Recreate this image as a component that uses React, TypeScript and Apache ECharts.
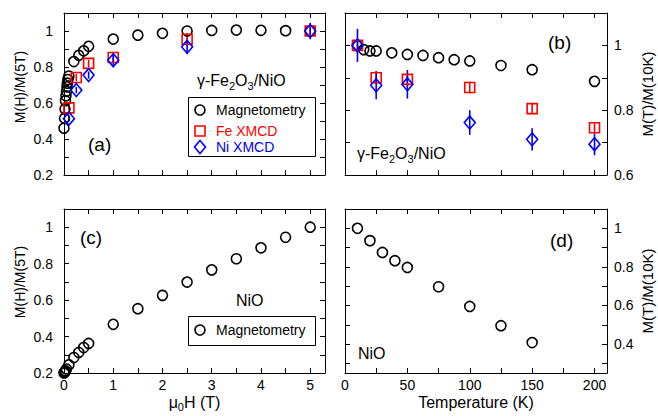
import React, { useEffect, useRef } from 'react';
import * as echarts from 'echarts';

// ---------- data ----------
// (a) gamma-Fe2O3/NiO, field dependence
const fieldA = [0, 0.01, 0.02, 0.03, 0.04, 0.05, 0.06, 0.07, 0.08, 0.1, 0.2, 0.3, 0.4, 0.5, 1, 1.5, 2, 2.5, 3, 3.5, 4, 4.5, 5];
const magA = [0.46, 0.515, 0.567, 0.613, 0.64, 0.665, 0.69, 0.71, 0.73, 0.75, 0.83, 0.865, 0.89, 0.915, 0.955, 0.977, 0.987, 1.0, 1.003, 1.005, 1.004, 1.002, 1.0];
const fieldXmcdA = [0.1, 0.25, 0.5, 1, 2.5, 5];
const feA = [0.573, 0.742, 0.82, 0.853, 0.954, 1.0];
const feAErr = [0.015, 0.02, 0.02, 0.028, 0.035, 0.02];
const niA = [0.513, 0.672, 0.755, 0.838, 0.912, 1.0];
const niAErr = [0.015, 0.018, 0.02, 0.035, 0.04, 0.046];

// (b) gamma-Fe2O3/NiO, temperature dependence
const tempB = [10, 15, 20, 25, 37.5, 50, 62.5, 75, 87.5, 100, 125, 150, 200];
const magB = [1.0, 0.987, 0.983, 0.983, 0.977, 0.972, 0.969, 0.962, 0.956, 0.952, 0.938, 0.925, 0.889];
const tempXmcdB = [10, 25, 50, 100, 150, 200];
const feB = [1.0, 0.9, 0.895, 0.87, 0.805, 0.746];
const feBErr = [0.015, 0.02, 0.02, 0.018, 0.017, 0.014];
const niB = [1.0, 0.877, 0.88, 0.762, 0.71, 0.695];
const niBErr = [0.051, 0.043, 0.044, 0.038, 0.034, 0.034];

// (c) NiO, field dependence
const fieldC = [0, 0.01, 0.02, 0.03, 0.05, 0.1, 0.2, 0.3, 0.4, 0.5, 1, 1.5, 2, 2.5, 3, 3.5, 4, 4.5, 5];
const magC = [0.2, 0.203, 0.207, 0.212, 0.222, 0.245, 0.285, 0.313, 0.34, 0.362, 0.467, 0.553, 0.626, 0.699, 0.766, 0.827, 0.887, 0.945, 1.0];

// (d) NiO, temperature dependence
const tempD = [10, 20, 30, 40, 50, 75, 100, 125, 150];
const magD = [1.0, 0.936, 0.875, 0.832, 0.797, 0.697, 0.595, 0.495, 0.408];

// ---------- ticks ----------
const fieldTicks = [0, 0.5, 1, 1.5, 2, 2.5, 3, 3.5, 4, 4.5, 5];
const fieldLabels = [0, 1, 2, 3, 4, 5];
const tempTicks = [0, 25, 50, 75, 100, 125, 150, 175, 200];
const tempLabels = [0, 50, 100, 150, 200];
const ratioTicksA = [0.2, 0.3, 0.4, 0.5, 0.6, 0.7, 0.8, 0.9, 1.0];
const ratioLabelsA = [0.2, 0.4, 0.6, 0.8, 1];
const ratioTicksB = [0.6, 0.7, 0.8, 0.9, 1.0];
const ratioLabelsB = [0.6, 0.8, 1];
const ratioTicksD = [0.3, 0.4, 0.5, 0.6, 0.7, 0.8, 0.9, 1.0];
const ratioLabelsD = [0.4, 0.6, 0.8, 1];

const FONT = '"Liberation Sans", Arial, Helvetica, sans-serif';
const RED = '#ff0000';
const BLUE = '#0000ff';

const fmt = (v: number) => String(Math.round(v * 10) / 10);

function axis(min: number, max: number, ticks: number[], labels: number[], show: boolean, margin: number, extra: any = {}) {
  return {
    type: 'value',
    min,
    max,
    splitLine: { show: false },
    axisLine: { show: true, onZero: false, lineStyle: { color: '#000', width: 1 } },
    axisTick: { show: true, inside: true, length: 5, customValues: ticks, lineStyle: { color: '#000', width: 1 } },
    axisLabel: { show, customValues: labels, margin, color: '#000', fontSize: 14, fontFamily: FONT, formatter: fmt },
    ...extra,
  };
}

const nameStyle = { fontSize: 16, lineHeight: 20, color: '#000', fontFamily: FONT };
const rightNameStyle = { fontSize: 15, color: '#000', fontFamily: FONT };
const subRich = {
  a: { fontSize: 16, lineHeight: 20, color: '#000', fontFamily: FONT },
  s: { fontSize: 11, lineHeight: 11, verticalAlign: 'bottom', color: '#000', fontFamily: FONT },
};
const titleRich = {
  a: { fontSize: 16, lineHeight: 22, color: '#000', fontFamily: FONT },
  s: { fontSize: 11, lineHeight: 11, verticalAlign: 'bottom', color: '#000', fontFamily: FONT },
};

function scatter(gi: number, xs: number[], ys: number[], symbol: string, size: any, color: string) {
  return {
    type: 'scatter',
    xAxisIndex: gi * 2,
    yAxisIndex: gi * 2,
    symbol,
    symbolSize: size,
    data: xs.map((x, i) => [x, ys[i]]),
    itemStyle: { color: 'rgba(0,0,0,0)', borderColor: color, borderWidth: 1.6, opacity: 1 },
    emphasis: { disabled: true },
    z: 3,
  };
}

function errBars(gi: number, xs: number[], ys: number[], es: number[], color: string) {
  return {
    type: 'custom',
    xAxisIndex: gi * 2,
    yAxisIndex: gi * 2,
    data: xs.map((x, i) => [x, ys[i] - es[i], ys[i] + es[i]]),
    encode: { x: 0, y: [1, 2] },
    renderItem: (params: any, api: any) => {
      const p1 = api.coord([api.value(0), api.value(1)]);
      const p2 = api.coord([api.value(0), api.value(2)]);
      return {
        type: 'line',
        shape: { x1: p1[0], y1: p1[1], x2: p2[0], y2: p2[1] },
        style: { stroke: color, lineWidth: 1.6 },
      };
    },
    z: 2,
  };
}

function txt(x: number, y: number, text: string, size: number, color = '#000', rich?: any, rotation = 0, align = 'left') {
  const style: any = {
    text,
    x: 0,
    y: 0,
    fill: color,
    font: `${size}px ${FONT}`,
    fontSize: size,
    fontFamily: FONT,
    align,
    textAlign: align,
    verticalAlign: 'middle',
    textVerticalAlign: 'middle',
  };
  if (rich) style.rich = rich;
  return { type: 'text', x, y, rotation, style, z: 10 };
}

const grids = [
  { left: 64, top: 13, width: 261, height: 162 },
  { left: 345, top: 13, width: 262, height: 162 },
  { left: 64, top: 209, width: 261, height: 164 },
  { left: 345, top: 209, width: 262, height: 164 },
];

const option: any = {
  animation: false,
  backgroundColor: '#fff',
  textStyle: { fontFamily: FONT },
  grid: grids,
  xAxis: [
    axis(0, 5.3, fieldTicks, fieldLabels, false, 5, { gridIndex: 0, position: 'bottom' }),
    axis(0, 5.3, fieldTicks, fieldLabels, false, 5, { gridIndex: 0, position: 'top' }),
    axis(0, 210, tempTicks, tempLabels, false, 5, { gridIndex: 1, position: 'bottom' }),
    axis(0, 210, tempTicks, tempLabels, false, 5, { gridIndex: 1, position: 'top' }),
    axis(0, 5.3, fieldTicks, fieldLabels, true, 5, {
      gridIndex: 2, position: 'bottom',
      name: '{a|μ}{s|0}{a|H (T)}', nameLocation: 'middle', nameGap: 18,
      nameTextStyle: { ...nameStyle, rich: subRich },
    }),
    axis(0, 5.3, fieldTicks, fieldLabels, false, 5, { gridIndex: 2, position: 'top' }),
    axis(0, 210, tempTicks, tempLabels, true, 5, {
      gridIndex: 3, position: 'bottom',
      name: 'Temperature (K)', nameLocation: 'middle', nameGap: 18,
      nameTextStyle: nameStyle,
    }),
    axis(0, 210, tempTicks, tempLabels, false, 5, { gridIndex: 3, position: 'top' }),
  ],
  yAxis: [
    axis(0.2, 1.1, ratioTicksA, ratioLabelsA, true, 11, { gridIndex: 0, position: 'left' }),
    axis(0.2, 1.1, ratioTicksA, ratioLabelsA, false, 7, { gridIndex: 0, position: 'right' }),
    axis(0.6, 1.1, ratioTicksB, ratioLabelsB, false, 11, { gridIndex: 1, position: 'left' }),
    axis(0.6, 1.1, ratioTicksB, ratioLabelsB, true, 7, {
      gridIndex: 1, position: 'right',
      name: 'M(T)/M(10K)', nameLocation: 'middle', nameGap: 33, nameRotate: 90, nameTextStyle: rightNameStyle,
    }),
    axis(0.2, 1.1, ratioTicksA, ratioLabelsA, true, 11, { gridIndex: 2, position: 'left' }),
    axis(0.2, 1.1, ratioTicksA, ratioLabelsA, false, 7, { gridIndex: 2, position: 'right' }),
    axis(0.25, 1.1, ratioTicksD, ratioLabelsD, false, 11, { gridIndex: 3, position: 'left' }),
    axis(0.25, 1.1, ratioTicksD, ratioLabelsD, true, 7, {
      gridIndex: 3, position: 'right',
      name: 'M(T)/M(10K)', nameLocation: 'middle', nameGap: 33, nameRotate: 90, nameTextStyle: rightNameStyle,
    }),
  ],
  series: [
    errBars(0, fieldXmcdA, feA, feAErr, RED),
    errBars(0, fieldXmcdA, niA, niAErr, BLUE),
    scatter(0, fieldA, magA, 'circle', 10, '#000'),
    scatter(0, fieldXmcdA, feA, 'rect', 10, RED),
    scatter(0, fieldXmcdA, niA, 'diamond', [11, 13], BLUE),

    errBars(1, tempXmcdB, feB, feBErr, RED),
    errBars(1, tempXmcdB, niB, niBErr, BLUE),
    scatter(1, tempB, magB, 'circle', 10, '#000'),
    scatter(1, tempXmcdB, feB, 'rect', 10, RED),
    scatter(1, tempXmcdB, niB, 'diamond', [11, 13], BLUE),

    scatter(2, fieldC, magC, 'circle', 10, '#000'),

    scatter(3, tempD, magD, 'circle', 10, '#000'),
  ],
  graphic: [
    // left axis titles
    txt(20, 87, 'M(H)/M(5T)', 14, '#000', undefined, Math.PI / 2, 'center'),
    txt(20, 282, 'M(H)/M(5T)', 14, '#000', undefined, Math.PI / 2, 'center'),
    // panel (a)
    txt(197, 80, '{a|γ-Fe}{s|2}{a|O}{s|3}{a|/NiO}', 16, '#000', titleRich),
    txt(88, 144, '(a)', 19),
    { type: 'rect', shape: { x: 188.5, y: 97.5, width: 127, height: 59 }, style: { fill: '#fff', stroke: '#000', lineWidth: 1 }, z: 9 },
    { type: 'circle', shape: { cx: 200, cy: 110, r: 5 }, style: { fill: 'none', stroke: '#000', lineWidth: 1.6 }, z: 10 },
    { type: 'rect', shape: { x: 195, y: 126, width: 10, height: 10 }, style: { fill: 'none', stroke: RED, lineWidth: 1.6 }, z: 10 },
    { type: 'polygon', shape: { points: [[200, 140.5], [205.5, 147], [200, 153.5], [194.5, 147]] }, style: { fill: 'none', stroke: BLUE, lineWidth: 1.6 }, z: 10 },
    txt(216, 110, 'Magnetometry', 14),
    txt(216, 131, 'Fe XMCD', 14, RED),
    txt(216, 147, 'Ni XMCD', 14, BLUE),
    // panel (b)
    txt(548, 42, '(b)', 19),
    txt(357, 153, '{a|γ-Fe}{s|2}{a|O}{s|3}{a|/NiO}', 16, '#000', titleRich),
    // panel (c)
    txt(80, 237, '(c)', 19),
    txt(236, 300, 'NiO', 16),
    { type: 'rect', shape: { x: 188.5, y: 316.5, width: 127, height: 29 }, style: { fill: '#fff', stroke: '#000', lineWidth: 1 }, z: 9 },
    { type: 'circle', shape: { cx: 200, cy: 330, r: 5 }, style: { fill: 'none', stroke: '#000', lineWidth: 1.6 }, z: 10 },
    txt(216, 330, 'Magnetometry', 14),
    // panel (d)
    txt(550, 240, '(d)', 19),
    txt(358, 353, 'NiO', 16),
  ],
};

export default function App() {
  const ref = useRef<HTMLDivElement>(null);
  useEffect(() => {
    if (!ref.current) return;
    const chart = echarts.init(ref.current, null, { renderer: 'svg' });
    chart.setOption(option);
    return () => chart.dispose();
  }, []);
  return (
    <div
      ref={ref}
      style={{ position: 'fixed', left: 0, top: 0, width: 658, height: 416, background: '#fff' }}
    />
  );
}
